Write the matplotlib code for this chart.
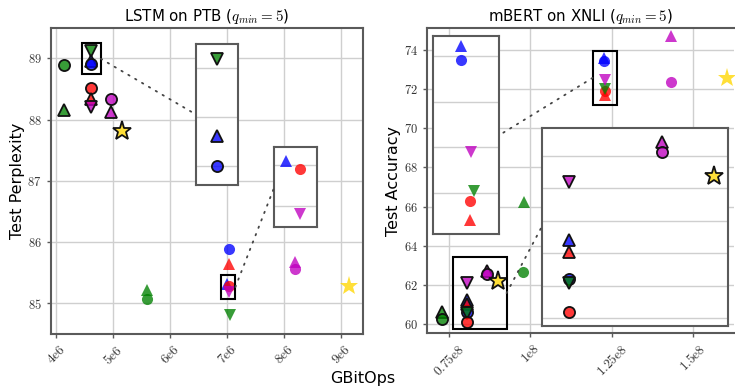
import matplotlib
matplotlib.use('Agg')
import matplotlib.pyplot as plt
from matplotlib.patches import Rectangle, ConnectionPatch
from matplotlib.colors import to_rgba
from matplotlib.ticker import MultipleLocator, NullFormatter

plt.rcParams['mathtext.fontset'] = 'cm'
plt.rcParams['font.family'] = ['DejaVu Sans']

# ---------------- LSTM on PTB ----------------
lstm_x = [4.14e6, 4.14e6, 4.60e6, 4.60e6, 4.60e6, 4.60e6, 4.60e6, 4.60e6, 4.95e6, 4.95e6, 5.15e6,
          5.59e6, 5.59e6, 7.02e6, 7.03e6, 7.00e6, 7.03e6, 7.03e6, 7.04e6, 8.19e6, 8.19e6, 9.14e6]
lstm_y = [88.89, 88.15, 89.12, 88.96, 88.90, 88.51, 88.33, 88.21, 88.34, 88.12, 87.82,
          85.22, 85.07, 85.89, 85.65, 85.31, 85.29, 85.18, 84.81, 85.68, 85.56, 85.28]
lstm_color = ['g', 'g', 'g', 'b', 'b', 'r', 'r', 'm', 'm', 'm', 'gold',
              'g', 'g', 'b', 'r', 'b', 'r', 'm', 'g', 'm', 'm', 'gold']
lstm_marker = ['o', '^', 'v', '^', 'o', 'o', '^', 'v', 'o', '^', '*',
               '^', 'o', 'o', '^', '^', 'o', 'v', 'v', '^', 'o', '*']
lstm_edged = [True] * 11 + [False] * 11
lstm_xticks = [4e6, 5e6, 6e6, 7e6, 8e6, 9e6]
lstm_xticklabels = [r'$\mathrm{4e6}$', r'$\mathrm{5e6}$', r'$\mathrm{6e6}$',
                    r'$\mathrm{7e6}$', r'$\mathrm{8e6}$', r'$\mathrm{9e6}$']
lstm_yticks = [85, 86, 87, 88, 89]

# ---------------- mBERT on XNLI ----------------
bert_x = [0.7275e8, 0.7275e8, 0.805e8, 0.805e8, 0.805e8, 0.805e8, 0.805e8, 0.805e8, 0.866e8, 0.866e8, 0.900e8,
          0.979e8, 0.977e8, 1.2255e8, 1.2255e8, 1.2285e8, 1.2285e8, 1.2298e8, 1.229e8, 1.434e8, 1.434e8, 1.604e8]
bert_y = [60.63, 60.25, 62.10, 61.20, 61.02, 60.61, 60.545, 60.09, 62.71, 62.56, 62.19,
          66.25, 62.64, 73.60, 73.45, 71.71, 71.92, 72.03, 72.45, 74.72, 72.38, 72.55]
bert_color = ['g', 'g', 'm', 'b', 'r', 'b', 'g', 'r', 'm', 'm', 'gold',
              'g', 'g', 'b', 'b', 'r', 'r', 'g', 'm', 'm', 'm', 'gold']
bert_marker = ['^', 'o', 'v', '^', '^', 'o', 'v', 'o', '^', 'o', '*',
               '^', 'o', '^', 'o', '^', 'o', 'v', 'v', '^', 'o', '*']
bert_edged = [True] * 11 + [False] * 11
bert_xticks = [0.75e8, 1e8, 1.25e8, 1.5e8]
bert_xticklabels = [r'$\mathrm{0.75e8}$', r'$\mathrm{1e8}$', r'$\mathrm{1.25e8}$', r'$\mathrm{1.5e8}$']
bert_yticks = [60, 62, 64, 66, 68, 70, 72, 74]

W, H = 735, 387
fig = plt.figure(figsize=(W / 100, H / 100), dpi=100)

SPINE = '#5a5a5a'
GRID = '#cfcfcf'


def px_axes(l, t, r, b):
    return fig.add_axes([l / W, 1 - b / H, (r - l) / W, (b - t) / H])


def draw_points(ax, xs, ys, cs, ms, es):
    for x, y, c, m, e in zip(xs, ys, cs, ms, es):
        size = 14 if m == '*' else 8
        ax.plot([x], [y], ls='none', marker=m, ms=size,
                mfc=to_rgba(c, 0.78), mec='#111111' if e else 'none',
                mew=1.3 if e else 0, zorder=3)


def style_main(ax):
    for s in ax.spines.values():
        s.set_color(SPINE)
        s.set_linewidth(1.5)
    ax.grid(True, color=GRID, lw=1.0, zorder=0)
    ax.set_axisbelow(True)
    ax.tick_params(colors=SPINE, labelcolor='#333333', length=3, width=1)


def make_inset(rect_px, xs, ys, cs, ms, es, xlim, ylim, ystep):
    ins = px_axes(*rect_px)
    draw_points(ins, xs, ys, cs, ms, es)
    ins.set_xlim(*xlim)
    ins.set_ylim(*ylim)
    ins.set_xticks([])
    ins.yaxis.set_major_locator(MultipleLocator(ystep))
    ins.yaxis.set_major_formatter(NullFormatter())
    ins.tick_params(axis='y', length=0)
    ins.grid(True, axis='y', color=GRID, lw=1.0, zorder=0)
    ins.set_axisbelow(True)
    for s in ins.spines.values():
        s.set_color(SPINE)
        s.set_linewidth(1.5)
    return ins


def add_box(ax, bx, by):
    ax.add_patch(Rectangle((bx[0], by[0]), bx[1] - bx[0], by[1] - by[0],
                           fill=False, ec='black', lw=1.5, zorder=4))


def connect(ax, ptA, ins, ptB):
    cp = ConnectionPatch(xyA=ptA, coordsA=ax.transData, xyB=ptB, coordsB=ins.transAxes,
                         color='#444444', lw=1.3, ls=(0, (0.8, 3.6)), zorder=5)
    fig.add_artist(cp)


# ---------- Left panel ----------
ax1 = px_axes(50.7, 28.3, 363.3, 334)
style_main(ax1)
draw_points(ax1, lstm_x, lstm_y, lstm_color, lstm_marker, lstm_edged)
ax1.set_xlim(3.9e6, 9.385e6)
ax1.set_ylim(84.5, 89.49)
ax1.set_xticks(lstm_xticks, lstm_xticklabels, rotation=45, fontsize=9.5)
ax1.set_yticks(lstm_yticks, [rf'${v}$' for v in lstm_yticks], fontsize=9)
ax1.set_title(r'LSTM on PTB ($q_{min} = 5$)', fontsize=10.8, pad=5)
ax1.set_ylabel('Test Perplexity', fontsize=11.5, labelpad=2)

box1x, box1y = (4.45e6, 4.78e6), (88.74, 89.245)
box2x, box2y = (6.88e6, 7.14e6), (85.07, 85.46)
add_box(ax1, box1x, box1y)
add_box(ax1, box2x, box2y)
insL1 = make_inset((196, 44, 238.3, 185), lstm_x, lstm_y, lstm_color, lstm_marker, lstm_edged,
                   (4.45e6, 4.75e6), (88.86, 89.15), 0.1)
insL2 = make_inset((274.3, 147.3, 316.7, 227), lstm_x, lstm_y, lstm_color, lstm_marker, lstm_edged,
                   (6.974e6, 7.065e6), (85.147, 85.345), 0.1)
connect(ax1, (box1x[1], sum(box1y) / 2), insL1, (0, 0.5))
connect(ax1, (box2x[1], sum(box2y) / 2), insL2, (0, 0.5))

# ---------- Right panel ----------
ax2 = px_axes(426.7, 28.3, 734, 333.3)
style_main(ax2)
ax2.spines['right'].set_visible(False)
draw_points(ax2, bert_x, bert_y, bert_color, bert_marker, bert_edged)
ax2.set_xlim(0.681e8, 1.627e8)
ax2.set_ylim(59.52, 75.11)
ax2.set_xticks(bert_xticks, bert_xticklabels, rotation=45, fontsize=9.5)
ax2.set_yticks(bert_yticks, [rf'${v}$' for v in bert_yticks], fontsize=9)
ax2.set_title(r'mBERT on XNLI ($q_{min} = 5$)', fontsize=10.8, pad=5)
ax2.set_ylabel('Test Accuracy', fontsize=11.5, labelpad=2)

boxAx, boxAy = (1.1917e8, 1.2678e8), (71.19, 73.96)
boxBx, boxBy = (0.761e8, 0.927e8), (59.74, 63.41)
add_box(ax2, boxAx, boxAy)
add_box(ax2, boxBx, boxBy)
insRA = make_inset((432.7, 36, 499.3, 234.3), bert_x, bert_y, bert_color, bert_marker, bert_edged,
                   (1.2164e8, 1.2381e8), (71.554, 73.714), 0.5)
insRB = make_inset((541.7, 127.7, 727.7, 326), bert_x, bert_y, bert_color, bert_marker, bert_edged,
                   (0.787e8, 0.909e8), (59.88, 62.93), 0.5)
connect(ax2, (boxAx[0], sum(boxAy) / 2), insRA, (1, 0.5))
connect(ax2, (boxBx[1], sum(boxBy) / 2), insRB, (0, 0.5))

fig.text(363 / W, 1 - 379 / H, 'GBitOps', ha='center', va='center', fontsize=11.5)

fig.savefig('out.png', dpi=100)
